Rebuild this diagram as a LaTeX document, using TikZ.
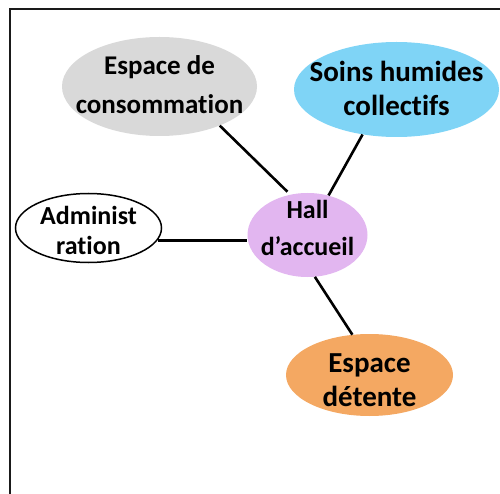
\documentclass[tikz,border=0pt]{standalone}
\usepackage{fontspec}
\setmainfont{Carlito}[Ligatures=CommonOff]
\usetikzlibrary{positioning,calc,shapes.geometric}
\usepackage{xcolor}
\definecolor{Frame}{HTML}{1A1A1A}
\definecolor{Grey}{HTML}{D9D9D9}
\definecolor{Sky}{HTML}{7FD4F6}
\definecolor{Lilac}{HTML}{E2B6F0}
\definecolor{Sand}{HTML}{F4A862}
\newcommand{\zonetext}[3][0pt]{\raisebox{#1}[\height][\depth]{\begin{tabular}{@{}c@{}}#2\\#3\end{tabular}}}
\tikzset{
 zone/.style={ellipse, draw=none, inner sep=-80pt, font=\bfseries},
 link/.style={line width=2.6pt, draw=black},
 frame/.style={line width=2pt, draw=Frame}
}
\begin{document}
\begin{tikzpicture}[x=1pt,y=-1pt]
\useasboundingbox (0,0) rectangle (500,494);
\clip (0,0) rectangle (500,494);
\draw[frame] (10,9) rectangle (520,520);
\node[zone,fill=Grey,minimum width=195pt,minimum height=99pt,font=\bfseries\fontsize{27}{39}\selectfont] (conso) at (159.5,86.5) {\zonetext{Espace de}{consommation}};
\node[zone,fill=Sky,minimum width=205pt,minimum height=95pt,font=\bfseries\fontsize{29}{34}\selectfont] (soins) at (396.5,89.5) {\zonetext[-2pt]{Soins humides}{collectifs}};
\node[zone,draw=black,line width=1.5pt,minimum width=146pt,minimum height=69pt,font=\bfseries\fontsize{26}{30}\selectfont] (admin) at (88.5,228) {\zonetext[-6pt]{Administ}{ration}};
\node[zone,fill=Lilac,minimum width=120pt,minimum height=84pt,font=\bfseries\fontsize{26}{37}\selectfont] (hall) at (307.5,235) {\zonetext[5pt]{Hall}{d’accueil}};
\node[zone,fill=Sand,minimum width=167pt,minimum height=82pt,font=\bfseries\fontsize{29}{34}\selectfont] (detente) at (369.5,375) {\zonetext[-8pt]{Espace}{détente}};
% liaisons vers le hall
\draw[link,shorten >=4pt] (conso.-33) -- (hall.113);
\draw[link] (soins.-127) -- (hall.62);
\draw[link] (admin.-10) -- (admin.-10 -| hall.west);
\draw[link] (hall.-80) -- (detente.113);
\end{tikzpicture}
\end{document}
